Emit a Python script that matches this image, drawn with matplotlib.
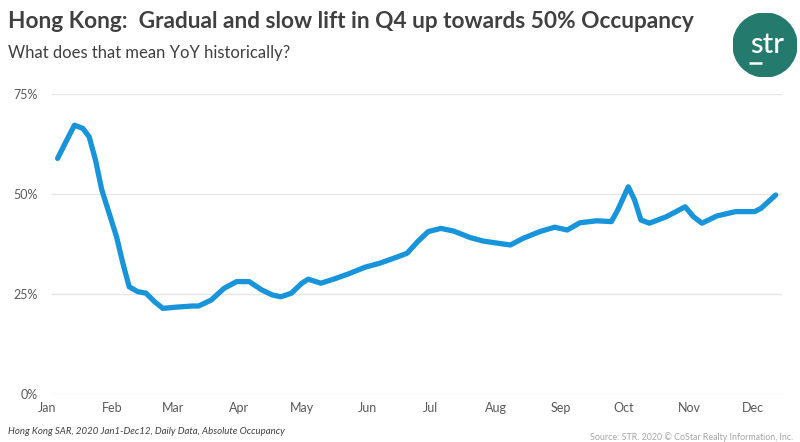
import matplotlib
matplotlib.use('Agg')
import matplotlib.pyplot as plt
from matplotlib.patches import Circle

plt.rcParams['font.family'] = ['Lato', 'DejaVu Sans']

# day of year (0 = Jan 1) and occupancy (%)
days = [5, 9, 13, 17, 20, 23, 26, 29, 33, 36, 39, 43, 47, 51, 55, 61, 69, 72, 78, 84,
        90, 96, 102, 107, 111, 116, 121, 124, 130, 136, 143, 151, 158, 166, 171, 176,
        181, 187, 193, 201, 207, 214, 220, 226, 234, 241, 247, 253, 261, 268, 271, 276,
        279, 282, 286, 294, 303, 307, 311, 318, 327, 336, 339, 346]
occ = [58.9, 63.1, 67.2, 66.4, 64.3, 58.5, 51.0, 46.0, 39.3, 32.7, 26.8, 25.6, 25.2, 23.1,
       21.4, 21.7, 22.0, 22.0, 23.5, 26.4, 28.1, 28.1, 26.0, 24.75, 24.3, 25.2, 27.7, 28.7,
       27.7, 28.7, 30.0, 31.7, 32.7, 34.2, 35.2, 38.1, 40.6, 41.4, 40.75, 39.1, 38.25,
       37.7, 37.25, 38.9, 40.6, 41.7, 41.0, 42.8, 43.3, 43.1, 46.0, 51.8, 48.5, 43.5,
       42.7, 44.3, 46.8, 44.3, 42.7, 44.5, 45.6, 45.6, 46.4, 49.75]

month_starts = [0, 31, 60, 91, 121, 152, 182, 213, 244, 274, 305, 335]
month_labels = ['Jan', 'Feb', 'Mar', 'Apr', 'May', 'Jun', 'Jul', 'Aug', 'Sep', 'Oct', 'Nov', 'Dec']
y_ticks = [0, 25, 50, 75]
y_labels = ['0%', '25%', '50%', '75%']

fig = plt.figure(figsize=(8, 4.42), dpi=100)
ax = fig.add_axes([46/800, 1-394/442, 736/800, 300/442])

# gridlines
ax.hlines(y_ticks, 2.0, 348.8, color='#E6E6E6', linewidth=1, zorder=1)

ax.plot(days, occ, color='#1794DA', linewidth=3.8, solid_joinstyle='round',
        solid_capstyle='round', zorder=3)

ax.set_xlim(-0.5, 349)
ax.set_ylim(0, 75)
ax.set_xticks(month_starts)
ax.set_xticklabels(month_labels)
ax.set_yticks(y_ticks)
ax.set_yticklabels(y_labels)
ax.tick_params(length=0, labelsize=9, labelcolor='#595959')
ax.tick_params(axis='x', pad=6)
ax.tick_params(axis='y', pad=6)
for s in ax.spines.values():
    s.set_visible(False)

fig.text(8/800, 1-22/442, 'Hong Kong:  Gradual and slow lift in Q4 up towards 50% Occupancy',
         fontsize=16.3, fontweight='bold', color='#404040', va='center', ha='left')
fig.text(8/800, 1-53/442, 'What does that mean YoY historically?',
         fontsize=12, color='#404040', va='center', ha='left')
fig.text(8/800, 1-432/442, 'Hong Kong SAR, 2020 Jan1-Dec12, Daily Data, Absolute Occupancy',
         fontsize=6.9, style='italic', color='#404040', va='center', ha='left')
fig.text(793/800, 1-437/442, 'Source: STR. 2020 \u00a9 CoStar Realty Information, Inc.',
         fontsize=6.4, color='#A6A6A6', va='center', ha='right')

# logo
lax = fig.add_axes([733/800, 1-77/442, 64/800, 64/442])
lax.set_xlim(-1, 1)
lax.set_ylim(-1, 1)
lax.axis('off')
lax.add_patch(Circle((0, 0), 1, color='#257A6E'))
lax.text(0.06, 0.0, 'str', color='white', fontsize=21, fontweight='medium',
         ha='center', va='center')
lax.plot([-0.5, -0.08], [-0.55, -0.55], color='white', linewidth=1.8, solid_capstyle='butt')

fig.savefig('out.png', dpi=100)
